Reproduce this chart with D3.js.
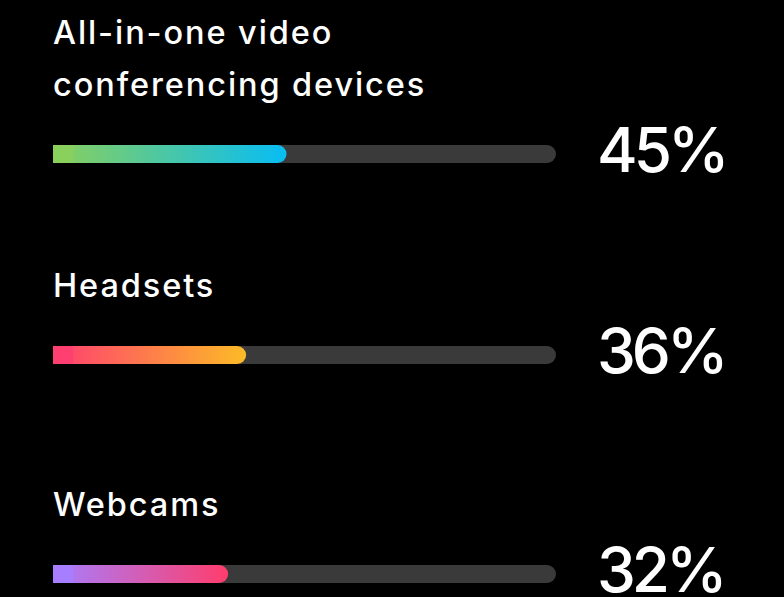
<!DOCTYPE html>
<html><head><meta charset="utf-8">
<script src="https://cdn.jsdelivr.net/npm/d3@7"></script>
<style>html,body{margin:0;padding:0;background:#000;}svg{display:block;}</style>
</head><body>
<script>
const categories = [["All-in-one video", "conferencing devices"], ["Headsets"], ["Webcams"]];
const values = [45, 36, 32];
const valueLabels = ["45%", "36%", "32%"];
const gradientStops = [["#8ad05c", "#07bdf4"], ["#ff3f70", "#fcbb26"], ["#a77eff", "#ff3d6c"]];

const W = 784, H = 597;
const svg = d3.select("body").append("svg").attr("width", W).attr("height", H);
svg.append("rect").attr("width", W).attr("height", H).attr("fill", "#000");

const left = 53, trackW = 503, barH = 18;
const barTops = [145, 346, 565];
const x = d3.scaleLinear().domain([-7, 105]).range([0, trackW]);

const defs = svg.append("defs");
gradientStops.forEach((g, i) => {
  const lg = defs.append("linearGradient").attr("id", "g" + i)
    .attr("x1", "0%").attr("x2", "100%").attr("y1", "0%").attr("y2", "0%");
  lg.append("stop").attr("offset", "0%").attr("stop-color", g[0]);
  lg.append("stop").attr("offset", "100%").attr("stop-color", g[1]);
});

const font = "Inter, 'Helvetica Neue', Arial, sans-serif";
const groups = svg.selectAll("g.row").data(values).enter().append("g").attr("class", "row")
  .attr("transform", (d, i) => `translate(0,${barTops[i]})`);

groups.each(function(d, i) {
  const g = d3.select(this);
  const lines = categories[i];
  lines.forEach((t, j) => {
    g.append("text").attr("x", left).attr("y", -49 - (lines.length - 1 - j) * 52)
      .attr("fill", "#fff").attr("font-family", font).attr("font-size", 32.5)
      .attr("font-weight", 500).attr("letter-spacing", 1.9).text(t);
  });
  g.append("rect").attr("x", left).attr("y", 0).attr("width", trackW).attr("height", barH)
    .attr("rx", barH / 2).attr("fill", "#3a3a3a");
  g.append("rect").attr("x", left).attr("y", 0).attr("width", barH).attr("height", barH)
    .attr("fill", "#3a3a3a");
  g.append("rect").attr("x", left).attr("y", 0).attr("width", x(d)).attr("height", barH)
    .attr("rx", barH / 2).attr("fill", `url(#g${i})`);
  g.append("rect").attr("x", left).attr("y", 0).attr("width", 20).attr("height", barH)
    .attr("fill", gradientStops[i][0]);
  g.append("text").attr("x", 597).attr("y", 27).attr("fill", "#fff")
    .attr("font-family", font).attr("font-size", 62).attr("font-weight", 500)
    .attr("letter-spacing", -4).text(valueLabels[i]);
});
</script>
</body></html>
